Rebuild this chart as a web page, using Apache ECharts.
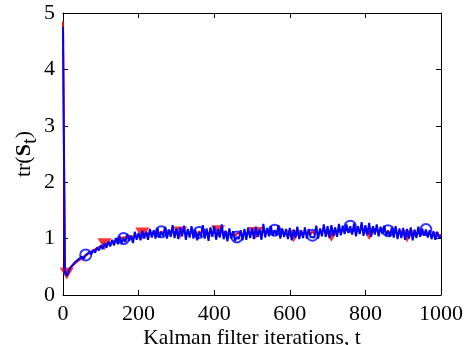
<!DOCTYPE html>
<html>
<head>
<meta charset="utf-8">
<script src="https://cdn.jsdelivr.net/npm/echarts@6/dist/echarts.min.js"></script>
<style>html,body{margin:0;padding:0;background:#fff;}#c{width:465px;height:345px;}</style>
</head>
<body>
<div id="c"></div>
<script>
// tick labels
const xTicks = [0, 200, 400, 600, 800, 1000];
const yTicks = [0, 1, 2, 3, 4, 5];

// blue series: sampled every 5 iterations, t = 0..1000
const blueStep = 5;
const blueVals = [
4.75,0.40,0.34,0.42,0.49,0.50,0.57,0.55,0.63,0.61,
0.68,0.64,0.71,0.68,0.76,0.72,0.80,0.75,0.84,0.79,
0.88,0.81,0.92,0.84,0.95,0.86,0.98,0.88,1.01,0.90,
1.04,0.92,1.00,0.94,1.08,0.96,1.05,0.92,1.12,0.98,
1.10,0.97,1.14,1.00,1.12,0.98,1.17,1.02,1.15,1.00,
1.19,1.02,1.12,1.05,1.21,1.00,1.16,1.03,1.24,1.01,
1.18,0.99,1.20,1.04,1.23,0.98,1.17,1.02,1.22,1.00,
1.16,0.97,1.11,1.04,1.24,1.00,1.18,0.96,1.20,1.03,
1.22,0.98,1.17,1.02,1.25,0.99,1.14,0.95,1.18,1.00,
1.13,0.96,1.03,0.99,1.15,0.97,1.17,0.98,1.20,1.01,
1.18,0.99,1.21,1.03,1.16,0.98,1.26,1.02,1.19,1.04,
1.22,1.05,1.15,1.06,1.24,1.00,1.18,1.03,1.17,0.99,
1.19,0.97,1.16,1.02,1.21,0.99,1.15,1.01,1.20,1.00,
1.17,1.03,1.06,1.02,1.23,1.00,1.18,1.04,1.25,1.03,
1.22,1.01,1.24,1.05,1.20,1.03,1.26,1.06,1.23,1.08,
1.25,1.10,1.22,1.07,1.27,1.04,1.22,1.08,1.29,1.05,
1.24,1.06,1.28,1.03,1.22,1.07,1.25,1.04,1.21,1.08,
1.23,1.05,1.14,1.03,1.20,1.02,1.22,0.99,1.18,1.01,
1.19,0.98,1.17,1.00,1.20,0.97,1.16,1.01,1.21,1.03,
1.18,1.05,1.16,1.02,1.15,0.99,1.13,0.98,1.12,1.00,
1.05
];
// indices (into blueVals) that carry circle markers: t = 60, 160, ..., 960
const blueMarkIdx = [12, 32, 52, 72, 92, 112, 132, 152, 172, 192];

// red series: sampled every 5 iterations, t = 0..1000
const redStep = 5;
const redVals = [
4.85,0.45,0.38,0.44,0.48,0.52,0.55,0.58,0.61,0.63,
0.66,0.68,0.70,0.72,0.74,0.77,0.78,0.81,0.82,0.85,
0.86,0.88,0.90,0.90,0.93,0.92,0.95,0.94,0.98,0.96,
1.00,0.97,1.02,0.99,1.03,1.00,1.05,1.01,1.06,1.02,
1.08,1.03,1.09,1.05,1.11,1.06,1.13,1.07,1.12,1.08,
1.14,1.07,1.13,1.08,1.15,1.06,1.12,1.09,1.14,1.07,
1.13,1.08,1.11,1.10,1.15,1.07,1.13,1.09,1.14,1.08,
1.12,1.06,1.13,1.09,1.15,1.07,1.12,1.08,1.14,1.09,
1.15,1.10,1.13,1.09,1.16,1.08,1.13,1.07,1.12,1.06,
1.10,1.05,1.09,1.06,1.11,1.05,1.12,1.07,1.13,1.08,
1.14,1.09,1.10,1.08,1.15,1.10,1.14,1.09,1.16,1.10,
1.15,1.09,1.14,1.10,1.16,1.08,1.13,1.09,1.12,1.07,
1.10,1.05,1.04,1.04,1.11,1.06,1.12,1.08,1.13,1.07,
1.12,1.08,1.13,1.09,1.14,1.08,1.12,1.10,1.15,1.09,
1.13,1.07,1.05,1.06,1.14,1.10,1.16,1.11,1.17,1.12,
1.18,1.13,1.17,1.12,1.19,1.14,1.18,1.13,1.17,1.12,
1.16,1.11,1.08,1.08,1.15,1.11,1.17,1.12,1.16,1.11,
1.15,1.10,1.14,1.09,1.15,1.08,1.13,1.09,1.14,1.08,
1.12,1.07,1.04,1.05,1.12,1.08,1.11,1.06,1.12,1.07,
1.11,1.06,1.10,1.07,1.11,1.05,1.09,1.06,1.10,1.05,
1.07
];
// indices (into redVals) with triangle markers: t = 10, 110, ..., 910
const redMarkIdx = [2, 22, 42, 62, 82, 102, 122, 142, 162, 182];

const bluePairs = blueVals.map((v, i) => [i * blueStep, v]);
const redPairs = redVals.map((v, i) => [i * redStep, v]);
const blueMarks = blueMarkIdx.map(i => bluePairs[i]);
const redMarks = redMarkIdx.map(i => redPairs[i]);

const FONT = 'Liberation Serif';
const chart = echarts.init(document.getElementById('c'), null, {renderer: 'canvas'});

const axisCommon = {
  axisLine: {show: true, onZero: false, lineStyle: {color: '#000', width: 1}},
  axisTick: {show: true, inside: true, length: 5, lineStyle: {color: '#000'}},
  splitLine: {show: false}
};

chart.setOption({
  animation: false,
  backgroundColor: '#fff',
  grid: {left: 63, right: 24, top: 13, bottom: 50, containLabel: false, outerBoundsMode: 'none'},
  xAxis: [
    Object.assign({
      type: 'value', position: 'bottom', min: 0, max: 1000, interval: 200,
      name: 'Kalman filter iterations, t', nameLocation: 'middle', nameGap: 32,
      nameMoveOverlap: false,
      nameTextStyle: {fontFamily: FONT, fontSize: 21.5, color: '#000'},
      axisLabel: {fontFamily: FONT, fontSize: 22, color: '#000', margin: 8,
        formatter: v => xTicks.includes(v) ? String(v) : ''}
    }, axisCommon),
    Object.assign({
      type: 'value', position: 'top', min: 0, max: 1000, interval: 200,
      axisLabel: {show: false}
    }, axisCommon)
  ],
  yAxis: [
    Object.assign({
      type: 'value', position: 'left', min: 0, max: 5, interval: 1,
      name: '{a|tr(}{b|S}{c|t}{a|)}', nameLocation: 'middle', nameGap: 22, nameRotate: 90,
      nameMoveOverlap: false,
      nameTextStyle: {
        fontFamily: FONT, color: '#000',
        rich: {
          a: {fontFamily: FONT, fontSize: 22, color: '#000', lineHeight: 34},
          b: {fontFamily: FONT, fontSize: 22, fontWeight: 'bold', color: '#000', lineHeight: 34},
          c: {fontFamily: FONT, fontSize: 21, color: '#000', lineHeight: 18, verticalAlign: 'bottom'}
        }
      },
      axisLabel: {fontFamily: FONT, fontSize: 22, color: '#000', margin: 8,
        formatter: v => yTicks.includes(v) ? String(v) : ''}
    }, axisCommon),
    Object.assign({
      type: 'value', position: 'right', min: 0, max: 5, interval: 1,
      axisLabel: {show: false}
    }, axisCommon)
  ],
  series: [
    {type: 'line', xAxisIndex: 0, yAxisIndex: 0, data: redPairs, showSymbol: false,
      lineStyle: {color: '#ff0000', width: 2}, z: 2, silent: true},
    {type: 'scatter', xAxisIndex: 0, yAxisIndex: 0, data: redMarks, symbol: 'triangle',
      symbolRotate: 180, symbolSize: [14, 12], itemStyle: {color: '#ff0000'}, z: 3, silent: true},
    {type: 'line', xAxisIndex: 0, yAxisIndex: 0, data: bluePairs, showSymbol: false,
      lineStyle: {color: '#0000ff', width: 2}, z: 4, silent: true},
    {type: 'scatter', xAxisIndex: 0, yAxisIndex: 0, data: blueMarks, symbol: 'circle',
      symbolSize: 11, itemStyle: {color: 'rgba(0,0,0,0)', borderColor: '#0000ff', borderWidth: 2}, z: 5, silent: true}
  ]
});
</script>
</body>
</html>
